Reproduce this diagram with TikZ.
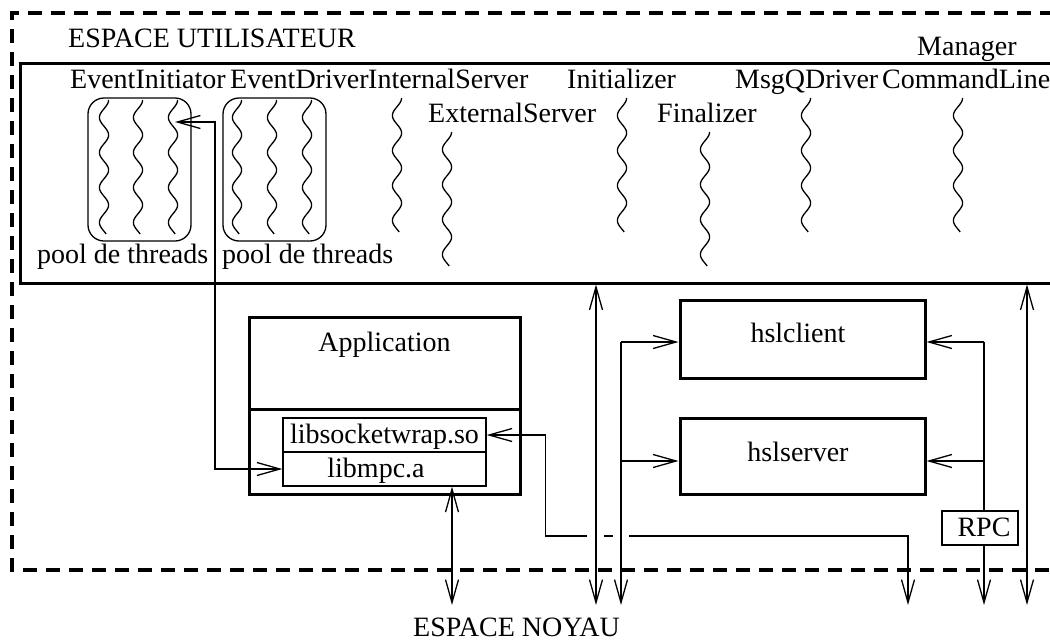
\documentclass[tikz,border=0pt]{standalone}
\usepackage{fontspec}
\setmainfont{Liberation Serif}
\usetikzlibrary{arrows.meta}
\newcommand{\wavethread}[3]{\draw[thread] plot[domain=#2:#3, samples=100, smooth, variable=\t] ({#1+4.6*cos(10.2857*(\t-#2))}, {\t});}
\begin{document}
\begin{tikzpicture}[x=1pt,y=-1pt,
  >={Straight Barb[length=23pt,width=13pt]},
  txt/.style={font=\fontsize{28}{32}\selectfont, inner sep=0pt},
  thickbox/.style={draw, line width=3pt, inner sep=0pt},
  thinbox/.style={draw, line width=1.4pt, inner sep=0pt},
  pool/.style={draw, line width=1.3pt, rounded corners=16pt, minimum width=103pt, minimum height=143pt, inner sep=0pt},
  thread/.style={line width=1.3pt},
  conn/.style={line width=1.3pt},
  spaceline/.style={line width=3.2pt, dash pattern=on 14pt off 9pt}]
\useasboundingbox (0,0) rectangle (1050,643);

% user space dashed frame
\draw[spaceline] (1100,13) -- (12,13) -- (12,570) -- (1100,570);
\node[txt, anchor=base west] (title) at (68,47) {ESPACE UTILISATEUR};
\node[txt, anchor=base west] (noyau) at (413,636) {ESPACE NOYAU};

% process box
\node[thickbox, minimum width=1060pt, minimum height=220pt] (user) at (550,173) {};
\node[txt, anchor=base west] (manager) at (917,55) {Manager};

% thread labels
\node[txt, anchor=base west] (lEI) at (70,88) {EventInitiator};
\node[txt, anchor=base west] (lED) at (230,88) {EventDriver};
\node[txt, anchor=base west] (lIS) at (368,88) {InternalServer};
\node[txt, anchor=base west] (lIN) at (567,88) {Initializer};
\node[txt, anchor=base west] (lMQ) at (735,88) {MsgQDriver};
\node[txt, anchor=base west] (lCL) at (882,88) {CommandLine};
\node[txt, anchor=base west] (lES) at (428,122) {ExternalServer};
\node[txt, anchor=base west] (lFI) at (657,122) {Finalizer};

% thread pools
\node[pool] (pool1) at (139.5,169.5) {};
\node[pool] (pool2) at (274.5,169.5) {};
\node[txt, anchor=base west] (lp1) at (37,263) {pool de threads};
\node[txt, anchor=base west] (lp2) at (222,263) {pool de threads};

% threads
\wavethread{104}{100}{234}
\wavethread{138}{100}{234}
\wavethread{173}{100}{234}
\wavethread{237}{100}{234}
\wavethread{272}{100}{234}
\wavethread{307}{100}{234}
\wavethread{397}{98}{232}
\wavethread{447}{132}{266}
\wavethread{622}{98}{232}
\wavethread{705}{132}{266}
\wavethread{806}{98}{232}
\wavethread{958}{98}{232}

% application
\node[thickbox, minimum width=271pt, minimum height=177pt] (app) at (384.5,405.5) {};
\draw[line width=3pt] (app.west |- 0,409) -- (app.east |- 0,409);
\node[txt, anchor=base] (apptxt) at (384.5,351) {Application};
\node[thinbox, minimum width=203pt, minimum height=34pt] (sock) at (384.5,435) {};
\node[thinbox, minimum width=203pt, minimum height=34pt] (libmpc) at (384.5,469) {};
\node[txt, anchor=base] (socktxt) at (384.5,443) {libsocketwrap.so};
\node[txt, anchor=base] (mpctxt) at (376,477) {libmpc.a};

% hsl
\node[thickbox, minimum width=245pt, minimum height=78pt] (hslclient) at (802.5,339) {};
\node[thickbox, minimum width=245pt, minimum height=76pt] (hslserver) at (802.5,456) {};
\node[txt, anchor=base] (hctxt) at (798,342) {hslclient};
\node[txt, anchor=base] (hstxt) at (798,461) {hslserver};

% coordinates
\coordinate (t3) at (175,122);
\coordinate (b1) at (452,605);
\coordinate (b2) at (596,605);
\coordinate (b3) at (621,605);
\coordinate (b4) at (984,605);
\coordinate (b5) at (1027,605);
\coordinate (b6) at (908,605);
\coordinate (j1) at (621,342);
\coordinate (j2) at (621,461);
\coordinate (r1) at (984,342);
\coordinate (r2) at (984,461);
\coordinate (g1) at (587,536);
\coordinate (g2) at (604,536);
\coordinate (g3) at (613,536);
\coordinate (g4) at (629,536);

% connectors
\draw[conn,<->] (t3) -- (215,122) |- (libmpc.west);
\draw[conn,<->] (b1 |- libmpc.south) -- (b1);
\draw[conn,<->] (b2 |- user.south) -- (b2);
\draw[conn,<->] (b5 |- user.south) -- (b5);
\draw[conn,->] (j1) -- (b3);
\draw[conn,->] (j1) -- (j1 -| hslclient.west);
\draw[conn,->] (j2) -- (j2 -| hslserver.west);
\draw[conn,->] (r1) -- (b4);
\draw[conn,->] (r1) -- (r1 -| hslclient.east);
\draw[conn,->] (r2) -- (r2 -| hslserver.east);
\draw[conn,<-] (sock.east) -- ++(59,0) |- (g1);
\draw[conn] (g2) -- (g3);
\draw[conn,->] (g4) -| (b6);

\node[thinbox, fill=white, minimum width=76pt, minimum height=34pt] (rpc) at (980,528) {};
\node[txt, anchor=base] (rpctxt) at (984,536) {RPC};
\end{tikzpicture}
\end{document}
